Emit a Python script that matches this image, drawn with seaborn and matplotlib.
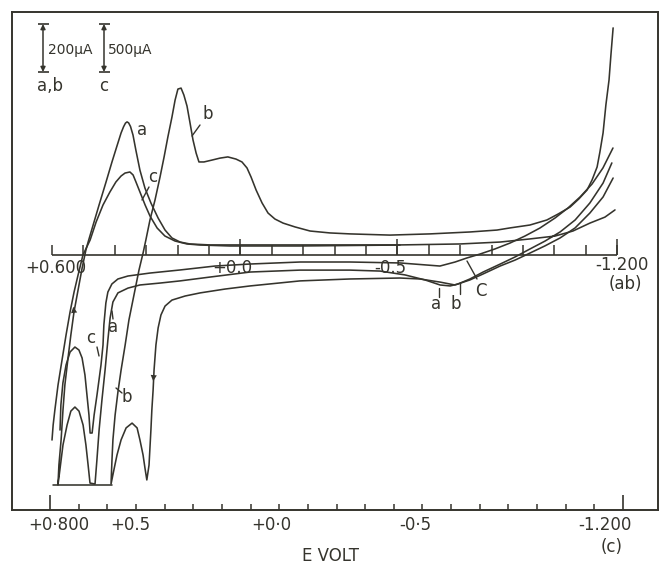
import matplotlib
matplotlib.use("Agg")
import matplotlib.pyplot as plt
import numpy as np
import pandas as pd
import seaborn as sns

# ---------------- data : potential E (V), current I (µA) ----------------
# curve a  (a,b scale: 200 µA bar) - anodic sweep, cathodic humps, lower branch
a_E = [-1.193, -1.161, -1.113, -1.059, -1.002, -0.922, -0.827, -0.699, -0.508, -0.285,
       -0.062, 0.097, 0.161, 0.192, 0.218, 0.240, 0.262, 0.285, 0.304, 0.320,
       0.333, 0.342, 0.350, 0.356, 0.361, 0.366, 0.372, 0.380, 0.393, 0.409, 0.428, 0.450,
       0.469, 0.485, 0.492, 0.504, 0.517, 0.530, 0.540, 0.549, 0.559, 0.565,
       0.571, 0.578, 0.581, 0.575, 0.565, 0.552, 0.540, 0.527, 0.514, 0.501,
       0.492, 0.485, 0.479, 0.463, 0.457, 0.450, 0.441, 0.431, 0.422, 0.415,
       0.406, 0.390, 0.358, 0.320, 0.256, 0.192, 0.097, -0.031, -0.190, -0.349,
       -0.445, -0.524, -0.588, -0.636, -0.668, -0.693, -0.731, -0.773, -0.827, -0.875,
       -0.922, -0.970, -1.018, -1.066, -1.113, -1.155, -1.183]
a_I = [188, 158, 133, 100, 79, 67, 54, 46, 42, 42,
       42, 42, 46, 54, 71, 104, 154, 217, 279, 354,
       438, 500, 536, 551, 555, 550, 535, 509, 455, 388, 304, 209,
       125, 54, 21, -54, -146, -238, -334, -430, -542, -646,
       -771, -876, -959, -897, -792, -709, -651, -634, -651, -709,
       -792, -876, -951, -955, -855, -730, -605, -480, -354, -263,
       -196, -158, -138, -125, -117, -108, -92, -71, -63, -63,
       -67, -83, -104, -125, -129, -121, -100, -71, -38, -8,
       25, 58, 96, 146, 217, 300, 384]
# curve a : recorder pen at its lower limit
a_flat_E = [0.597, 0.409]
a_flat_I = [-959, -959]

# curve b  (a,b scale)
b_E = [-1.187, -1.180, -1.174, -1.164, -1.155, -1.145, -1.136, -1.120, -1.104, -1.078,
       -1.050, -1.012, -0.976, -0.922, -0.859, -0.817, -0.731, -0.604, -0.476, -0.349,
       -0.285, -0.222, -0.174, -0.136, -0.110, -0.088, -0.069, -0.050, -0.034, -0.021,
       -0.005, 0.014, 0.040, 0.065, 0.090, 0.116, 0.132, 0.141, 0.151, 0.161,
       0.170, 0.180, 0.189, 0.199, 0.208, 0.218, 0.231, 0.243, 0.256, 0.272,
       0.288, 0.301, 0.310, 0.323, 0.339, 0.355, 0.367, 0.380, 0.390, 0.399,
       0.406, 0.409, 0.412, 0.403, 0.393, 0.380, 0.364, 0.345, 0.329, 0.320,
       0.310, 0.304, 0.298, 0.291, 0.285, 0.282, 0.278, 0.275, 0.269, 0.262,
       0.253, 0.240, 0.218, 0.176, 0.128, 0.049, -0.031, -0.190, -0.349, -0.508,
       -0.572, -0.636, -0.683, -0.731, -0.773, -0.827, -0.875, -0.922, -0.970, -1.018,
       -1.066, -1.113, -1.155, -1.187]
b_I = [947, 834, 730, 626, 509, 430, 367, 313, 271, 234,
       200, 171, 146, 125, 113, 104, 96, 88, 83, 88,
       92, 100, 117, 133, 150, 175, 217, 271, 325, 363,
       388, 400, 409, 404, 396, 388, 388, 425, 480, 555,
       621, 667, 696, 692, 646, 575, 492, 409, 325, 229,
       146, 63, 8, -63, -167, -271, -375, -480, -571, -667,
       -771, -855, -955, -897, -834, -771, -721, -701, -721, -771,
       -834, -888, -938, -876, -730, -646, -563, -480, -375, -304,
       -250, -213, -188, -171, -158, -142, -129, -108, -100, -96,
       -100, -113, -125, -104, -79, -46, -21, 8, 38, 71,
       113, 175, 242, 321]

# curve c  (c scale: 500 µA bar) - anodic branch
c1_E = [0.793, 0.789, 0.783, 0.772, 0.758, 0.744, 0.730, 0.716, 0.702, 0.685,
        0.660, 0.639, 0.615, 0.591, 0.570, 0.552, 0.538, 0.521, 0.510, 0.500,
        0.486, 0.468, 0.451, 0.426, 0.399, 0.364, 0.322, 0.276, 0.172, 0.067,
        -0.073, -0.422]
c1_I = [-1928, -1771, -1615, -1355, -1094, -834, -594, -386, -208, 0,
        156, 344, 521, 656, 761, 823, 854, 865, 834, 761,
        656, 521, 406, 281, 198, 146, 115, 104, 94, 94,
        94, 104]
# curve c - cathodic hump and lower branch
c2_E = [0.765, 0.762, 0.755, 0.744, 0.730, 0.713, 0.699, 0.688, 0.678, 0.671,
        0.664, 0.660, 0.653, 0.646, 0.636, 0.629, 0.622, 0.615, 0.612, 0.605,
        0.598, 0.584, 0.563, 0.528, 0.451, 0.346, 0.224, 0.102, -0.073, -0.247,
        -0.422, -0.561, -0.614, -0.655, -0.701, -0.753, -0.806, -0.858, -0.910, -0.963,
        -1.008, -1.050, -1.092, -1.130, -1.165]
c2_I = [-1824, -1563, -1334, -1146, -1011, -959, -990, -1073, -1250, -1459,
        -1667, -1855, -1855, -1667, -1459, -1303, -1146, -938, -729, -500,
        -386, -302, -250, -219, -188, -156, -115, -94, -73, -73,
        -83, -115, -73, -31, 10, 63, 125, 198, 281, 386,
        490, 604, 740, 907, 1115]

# axis ticks
ab_tick_E = [0.6, 0.5, 0.4, 0.3, 0.2, 0.1, 0.0, -0.1, -0.2, -0.3,
             -0.4, -0.5, -0.6, -0.7, -0.8, -0.9, -1.0, -1.1, -1.2]
ab_major_E = [0.0, -0.5, -1.2]
c_tick_E = [0.8, 0.7, 0.6, 0.5, 0.4, 0.3, 0.2, 0.1, 0.0, -0.1, -0.2,
            -0.3, -0.4, -0.5, -0.6, -0.7, -0.8, -0.9, -1.0, -1.1, -1.2]
c_major_E = [0.8, -1.2]
ab_bar_uA = 200
c_bar_uA = 500

# ---------------- layout ----------------
sns.set_theme(style="white")
plt.rcParams['font.family'] = ['DejaVu Sans']
INK = '#35342d'
W, H = 662, 567
L, R, T, B = 12, 658, 12, 510


def ab_E(x):
    return 0.6 - (x - 52) / 314.0


def ab_I(y):
    return (255 - y) * 4.17


def c_E(x):
    return 0.8 - (x - 50) / 286.5


def c_I(y):
    return (255 - y) * 10.42


fig = plt.figure(figsize=(W / 100, H / 100), dpi=100)
rect = [L / W, 1 - B / H, (R - L) / W, (B - T) / H]
ax_c = fig.add_axes(rect, zorder=1)
ax_ab = fig.add_axes(rect, zorder=2)
ax_px = fig.add_axes([0, 0, 1, 1], zorder=3)
for ax in (ax_ab, ax_px):
    ax.patch.set_alpha(0)

df_ab = pd.concat([
    pd.DataFrame({'E': a_E, 'I': a_I, 'seg': 'a1'}),
    pd.DataFrame({'E': a_flat_E, 'I': a_flat_I, 'seg': 'a2'}),
    pd.DataFrame({'E': b_E, 'I': b_I, 'seg': 'b'}),
], ignore_index=True)
df_c = pd.concat([
    pd.DataFrame({'E': c1_E, 'I': c1_I, 'seg': 'c1'}),
    pd.DataFrame({'E': c2_E, 'I': c2_I, 'seg': 'c2'}),
], ignore_index=True)

lw = 1.15
sns.lineplot(data=df_ab, x='E', y='I', units='seg', estimator=None, sort=False,
             color=INK, linewidth=lw, ax=ax_ab)
sns.lineplot(data=df_c, x='E', y='I', units='seg', estimator=None, sort=False,
             color=INK, linewidth=lw, ax=ax_c)

ax_ab.set_xlim(ab_E(L), ab_E(R))
ax_ab.set_ylim(ab_I(B), ab_I(T))
ax_c.set_xlim(c_E(L), c_E(R))
ax_c.set_ylim(c_I(B), c_I(T))
ax_ab.axis('off')

# main frame and bottom (c) axis
for s in ax_c.spines.values():
    s.set_visible(True)
    s.set_color(INK)
    s.set_linewidth(1.4)
ax_c.set_xlabel('')
ax_c.set_ylabel('')
ax_c.set_yticks([])
ax_c.set_xticks(c_major_E)
ax_c.set_xticks([e for e in c_tick_E if e not in c_major_E], minor=True)
ax_c.tick_params(axis='x', which='major', direction='in', length=11, width=1.2,
                 color=INK, labelbottom=False, bottom=True)
ax_c.tick_params(axis='x', which='minor', direction='in', length=4, width=1.1,
                 color=INK, bottom=True)

# inner (a,b) potential axis at zero current
ax_ab.hlines(0, ab_tick_E[0], ab_tick_E[-1], color=INK, lw=1.2)
ax_ab.vlines(ab_tick_E, 0, 42, color=INK, lw=1.1)
ax_ab.vlines(ab_major_E, 0, 67, color=INK, lw=1.1)

# current scale bars
for ax, xE, y0, amp in ((ax_ab, ab_E(43), ab_I(72), ab_bar_uA),
                        (ax_c, c_E(104), c_I(72), c_bar_uA)):
    ax.annotate('', xy=(xE, y0 + amp), xytext=(xE, y0),
                arrowprops=dict(arrowstyle='<|-|>', color=INK, lw=1.1,
                                mutation_scale=7, shrinkA=0, shrinkB=0))
for xc in (43, 104):
    ax_px.hlines([24, 72], xc - 5, xc + 6, color=INK, lw=1.2)

# ---------------- texts (pixel overlay) ----------------
ax_px.set_xlim(0, W)
ax_px.set_ylim(H, 0)
ax_px.axis('off')
fs = 12
txt = [("+0.600", 56, 268), ("+0.0", 232, 268), ("-0.5", 390, 268),
       ("-1.200", 622, 265), ("(ab)", 625, 284),
       ("+0·800", 59, 525), ("+0.5", 130, 525), ("+0·0", 271, 525),
       ("-0·5", 415, 525), ("-1.200", 605, 525), ("(c)", 612, 547),
       ("E VOLT", 330, 556)]
for s, x, y in txt:
    ax_px.text(x, y, s, ha='center', va='center', fontsize=fs, color=INK)

lab = [("a", 142, 130), ("b", 208, 114), ("c", 153, 177),
       ("c", 91, 338), ("a", 113, 327), ("b", 127, 397),
       ("a", 436, 304), ("b", 456, 304), ("C", 481, 291)]
for s, x, y in lab:
    ax_px.text(x, y, s, ha='center', va='center', fontsize=12, color=INK)

leaders = [((192, 136), (200, 125)), ((142, 200), (149, 187)),
           ((97, 347), (99, 356)), ((112, 311), (113, 319)),
           ((116, 388), (122, 393)), ((439, 288), (439, 297)),
           ((460, 283), (460, 294)), ((467, 261), (477, 279))]
for (x0, y0), (x1, y1) in leaders:
    ax_px.plot([x0, x1], [y0, y1], color=INK, lw=1.0)

ax_px.text(48, 50, "200µA", ha='left', va='center', fontsize=10, color=INK)
ax_px.text(108, 50, "500µA", ha='left', va='center', fontsize=10, color=INK)
ax_px.text(37, 86, "a,b", ha='left', va='center', fontsize=12, color=INK)
ax_px.text(99, 86, "c", ha='left', va='center', fontsize=12, color=INK)

# direction arrows on the traces
ax_px.annotate('', xy=(73, 304), xytext=(74.5, 316),
               arrowprops=dict(arrowstyle='-|>', color=INK, lw=0.01, mutation_scale=11))
ax_px.annotate('', xy=(153, 384), xytext=(154, 372),
               arrowprops=dict(arrowstyle='-|>', color=INK, lw=0.01, mutation_scale=11))

fig.savefig("out.png", dpi=100, facecolor='white')
